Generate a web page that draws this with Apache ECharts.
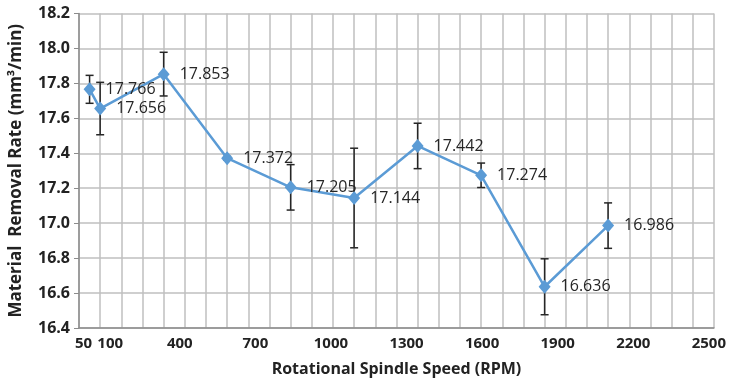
<!DOCTYPE html>
<html>
<head>
<meta charset="utf-8">
<script src="https://cdn.jsdelivr.net/npm/echarts@6/dist/echarts.min.js"></script>
<style>
  html, body { margin: 0; padding: 0; background: #fff; }
  #chart { width: 729px; height: 382px; }
</style>
</head>
<body>
<div id="chart"></div>
<script>
// spindle speed (RPM) and measured removal rate (mm3/min)
const speeds = [50, 100, 400, 700, 1000, 1300, 1600, 1900, 2200, 2500]
const mrr = [17.766, 17.656, 17.853, 17.372, 17.205, 17.144, 17.442, 17.274, 16.636, 16.986]
// half-length of each error bar
const mrrError = [0.08, 0.15, 0.125, 0.01, 0.13, 0.285, 0.13, 0.07, 0.16, 0.13]
// tick labels written under the axis
const speedTicks = [50, 100, 400, 700, 1000, 1300, 1600, 1900, 2200, 2500]
const yTicks = [16.4, 16.6, 16.8, 17.0, 17.2, 17.4, 17.6, 17.8, 18.0, 18.2]

const BLUE = '#5B9BD5'
const INK = '#222'
const chart = echarts.init(document.getElementById('chart'))

const points = speeds.map((s, i) => [s, mrr[i]])
const bars = speeds.map((s, i) => [s, mrr[i] - mrrError[i], mrr[i] + mrrError[i]])

const tickFont = { fontFamily: 'Open Sans', fontWeight: 'bold', fontSize: 15, color: INK }

chart.setOption({
  animation: false,
  textStyle: { fontFamily: 'Open Sans' },
  grid: { left: 76, right: 9, top: 13.5, bottom: 54 },
  xAxis: [
    {
      type: 'value',
      min: 0,
      max: 3000,
      interval: 100,
      axisLine: { show: true, onZero: false, lineStyle: { color: '#8c8c8c', width: 1.5 } },
      axisTick: { show: false },
      axisLabel: { show: false },
      splitLine: { show: true, lineStyle: { color: '#bfbfbf', width: 1.5 } },
      name: 'Rotational Spindle Speed (RPM)',
      nameLocation: 'middle',
      nameGap: 33,
      nameTextStyle: { fontFamily: 'Open Sans', fontWeight: 'bold', fontSize: 16, color: INK }
    },
    {
      type: 'value',
      position: 'bottom',
      min: 0,
      max: 2520,
      axisLine: { show: false },
      axisTick: { show: false },
      splitLine: { show: false },
      axisLabel: {
        customValues: speedTicks,
        margin: 8,
        ...tickFont,
        formatter: v => v === 50 ? '{l|50}' : v === 100 ? '{r|100}' : String(v),
        rich: {
          l: { padding: [0, 16, 0, 0], ...tickFont },
          r: { padding: [0, 0, 0, 12], ...tickFont }
        }
      }
    }
  ],
  yAxis: {
    type: 'value',
    min: 16.4,
    max: 18.2,
    interval: 0.2,
    axisLine: { show: true, lineStyle: { color: '#8c8c8c', width: 1.5 } },
    axisTick: { show: true, length: 5, lineStyle: { color: '#8c8c8c' } },
    axisLabel: {
      customValues: yTicks,
      margin: 9,
      ...tickFont,
      fontSize: 16,
      formatter: v => v.toFixed(1)
    },
    splitLine: { show: true, lineStyle: { color: '#bfbfbf', width: 1.5 } },
    name: 'Material  Removal Rate (mm³/min)',
    nameLocation: 'middle',
    nameGap: 54,
    nameTextStyle: { fontFamily: 'Open Sans', fontWeight: 'bold', fontSize: 17, color: INK }
  },
  series: [
    {
      type: 'custom',
      xAxisIndex: 0,
      z: 3,
      data: bars,
      renderItem: (params, api) => {
        const x = api.value(0)
        const lo = api.coord([x, api.value(1)])
        const hi = api.coord([x, api.value(2)])
        const cap = 4
        const style = { stroke: '#262626', lineWidth: 1.5 }
        return {
          type: 'group',
          children: [
            { type: 'line', shape: { x1: lo[0], y1: lo[1], x2: hi[0], y2: hi[1] }, style },
            { type: 'line', shape: { x1: hi[0] - cap, y1: hi[1], x2: hi[0] + cap, y2: hi[1] }, style },
            { type: 'line', shape: { x1: lo[0] - cap, y1: lo[1], x2: lo[0] + cap, y2: lo[1] }, style }
          ]
        }
      }
    },
    {
      type: 'line',
      xAxisIndex: 0,
      z: 4,
      data: points,
      color: BLUE,
      symbol: 'diamond',
      symbolSize: [12, 14],
      lineStyle: { width: 2.5, color: BLUE },
      itemStyle: { color: BLUE },
      label: {
        show: true,
        position: 'right',
        distance: 10,
        fontFamily: 'Open Sans',
        fontSize: 16,
        color: '#262626',
        formatter: p => String(p.value[1])
      }
    }
  ]
})
</script>
</body>
</html>
